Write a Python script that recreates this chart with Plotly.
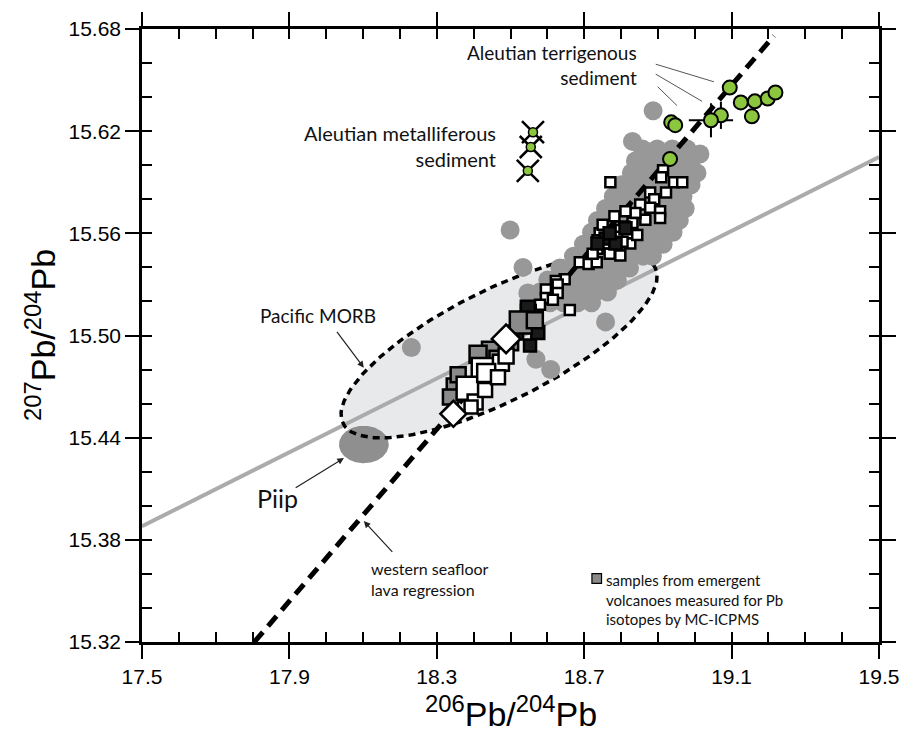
import numpy as np
import plotly.graph_objects as go

# ---- emergent-volcano samples and reference fields (206Pb/204Pb, 207Pb/204Pb) ----
# grey field of published arc lavas (dense cloud along the array)
gray_x = [18.858, 18.898, 18.939, 18.979,
          18.839, 18.877, 18.914, 18.952, 18.990,
          18.828, 18.866, 18.904, 18.941, 18.979, 19.006,
          18.801, 18.839, 18.877, 18.914, 18.952, 18.990,
          18.779, 18.817, 18.855, 18.893, 18.931, 18.968,
          18.758, 18.796, 18.833, 18.871, 18.909, 18.947, 18.974,
          18.736, 18.774, 18.812, 18.850, 18.887, 18.925, 18.958,
          18.720, 18.758, 18.796, 18.833, 18.871, 18.909, 18.941,
          18.698, 18.736, 18.774, 18.812, 18.850, 18.887, 18.914,
          18.671, 18.709, 18.747, 18.785, 18.823, 18.860, 18.885,
          18.634, 18.671, 18.709, 18.747, 18.785, 18.823,
          18.601, 18.639, 18.677, 18.715, 18.752, 18.790,
          18.580, 18.617, 18.655, 18.693, 18.731, 18.763,
          18.607, 18.644, 18.682, 18.720,
          18.831, 19.014, 18.547,
          18.887, 18.499, 18.534, 18.758, 18.231, 18.569, 18.609]
gray_y = [15.6095, 15.6095, 15.6095, 15.6095,
          15.6025, 15.6025, 15.6025, 15.6025, 15.6025,
          15.5955, 15.5955, 15.5955, 15.5955, 15.5955, 15.5955,
          15.5885, 15.5885, 15.5885, 15.5885, 15.5885, 15.5885,
          15.5816, 15.5816, 15.5816, 15.5816, 15.5816, 15.5816,
          15.5746, 15.5746, 15.5746, 15.5746, 15.5746, 15.5746, 15.5746,
          15.5676, 15.5676, 15.5676, 15.5676, 15.5676, 15.5676, 15.5676,
          15.5606, 15.5606, 15.5606, 15.5606, 15.5606, 15.5606, 15.5606,
          15.5536, 15.5536, 15.5536, 15.5536, 15.5536, 15.5536, 15.5536,
          15.5466, 15.5466, 15.5466, 15.5466, 15.5466, 15.5466, 15.5466,
          15.5396, 15.5396, 15.5396, 15.5396, 15.5396, 15.5396,
          15.5326, 15.5326, 15.5326, 15.5326, 15.5326, 15.5326,
          15.5256, 15.5256, 15.5256, 15.5256, 15.5256, 15.5256,
          15.5192, 15.5192, 15.5192, 15.5192,
          15.614, 15.6066, 15.525,
          15.632, 15.562, 15.540, 15.508, 15.493, 15.486, 15.480]

# MC-ICPMS samples, small open squares
sq_x = [18.771, 18.914, 18.909, 18.944, 18.966, 18.922, 18.879, 18.890, 18.852, 18.879,
        18.906, 18.906, 18.866, 18.839, 18.812, 18.782, 18.831, 18.809, 18.785, 18.763,
        18.742, 18.736, 18.755, 18.736, 18.771, 18.790, 18.817, 18.790, 18.798, 18.825,
        18.688, 18.712, 18.734, 18.647, 18.623, 18.596, 18.628, 18.628, 18.661, 18.596,
        18.566, 18.615, 18.580, 18.555, 18.542, 18.750, 18.804, 18.844, 18.769, 18.723]
sq_y = [15.590, 15.597, 15.593, 15.590, 15.590, 15.584, 15.584, 15.580, 15.577, 15.575,
        15.573, 15.569, 15.568, 15.572, 15.573, 15.570, 15.566, 15.564, 15.562, 15.561,
        15.560, 15.556, 15.554, 15.551, 15.557, 15.558, 15.560, 15.551, 15.547, 15.554,
        15.543, 15.542, 15.543, 15.533, 15.532, 15.527, 15.530, 15.525, 15.515, 15.522,
        15.517, 15.521, 15.518, 15.515, 15.515, 15.565, 15.555, 15.559, 15.548, 15.548]

# small squares with solid fill
sqfill_x = [18.758, 18.785, 18.812, 18.736, 18.769, 18.547, 18.574, 18.515, 18.553]
sqfill_y = [15.557, 15.554, 15.563, 15.554, 15.560, 15.5163, 15.5017, 15.5017, 15.4942]
sqfill_s = [12, 12, 12, 12, 12, 14, 13, 14, 12]

# larger squares, grey fill
bigg_x = [18.528, 18.566, 18.447, 18.412, 18.466, 18.350, 18.358, 18.337, 18.499]
bigg_y = [15.5076, 15.509, 15.491, 15.489, 15.486, 15.4697, 15.477, 15.4639, 15.496]
bigg_s = [22, 16, 18, 17, 17, 17, 15, 15, 16]

# larger squares, white fill
bigw_x = [18.426, 18.385, 18.474, 18.434, 18.404, 18.431, 18.488, 18.393, 18.466]
bigw_y = [15.480, 15.469, 15.484, 15.478, 15.461, 15.468, 15.488, 15.458, 15.4755]
bigw_s = [23, 23, 16, 18, 15, 14, 15, 13, 14]

# white diamonds
dia_x = [18.488, 18.345]
dia_y = [15.498, 15.454]
dia_s = [22, 20]

# Aleutian terrigenous sediment
terr_x = [19.095, 19.125, 19.163, 19.198, 19.219, 19.155, 19.071, 19.044, 18.936, 18.947, 18.933]
terr_y = [15.6456, 15.6369, 15.6375, 15.6392, 15.6427, 15.6287, 15.6293, 15.6264, 15.6252, 15.6235, 15.6037]
terr_ex = [0, 0, 0, 0, 0, 0, 0, 0.06, 0, 0, 0]
terr_ey = [0, 0, 0, 0, 0, 0, 0.008, 0.010, 0, 0, 0]

# Aleutian metalliferous sediment
metal_x = [18.561, 18.555, 18.547]
metal_y = [15.6194, 15.6107, 15.5967]

# reference fields: centre and the two semi-axis vectors
morb_center = (18.469, 15.4942)
morb_axis_a = (0.4235, 0.0458)
morb_axis_b = (-0.0677, 0.0292)
piip_center = (18.102, 15.436)
piip_axis_a = (0.0675, 0.0)
piip_axis_b = (0.0, 0.011)

# Northern Hemisphere reference line and western seafloor lava regression
nhrl_slope, nhrl_icpt = 0.1084, 13.491
reg_x0, reg_y0, reg_slope, reg_x1 = 17.805, 15.32, 0.2525, 19.215

X_RANGE = [17.5, 19.5]
Y_RANGE = [15.32, 15.68]

GREEN = "#8cc63e"
FONT_TXT = "Lato"
FONT_AX = "Liberation Sans"

t = np.linspace(0, 2 * np.pi, 241)


def ellipse(c, a, b):
    return (c[0] + a[0] * np.cos(t) + b[0] * np.sin(t),
            c[1] + a[1] * np.cos(t) + b[1] * np.sin(t))


def squares(x, y, size, fill, symbol="square", **kw):
    return go.Scatter(x=x, y=y, mode="markers", hoverinfo="skip", **kw,
                      marker=dict(symbol=symbol, size=size, color=fill, opacity=1,
                                  line=dict(color="black", width=2.5)))


fig = go.Figure()

mx, my = ellipse(morb_center, morb_axis_a, morb_axis_b)
fig.add_trace(go.Scatter(x=mx, y=my, mode="lines", fill="toself", fillcolor="#e7e9eb",
                         line=dict(width=0), hoverinfo="skip"))

px_, py_ = ellipse(piip_center, piip_axis_a, piip_axis_b)
fig.add_trace(go.Scatter(x=px_, y=py_, mode="lines", fill="toself", fillcolor="#8f8f8f",
                         line=dict(width=0), hoverinfo="skip"))

nx = np.array(X_RANGE)
fig.add_trace(go.Scatter(x=nx, y=nhrl_slope * nx + nhrl_icpt, mode="lines",
                         line=dict(color="#ababab", width=4), hoverinfo="skip"))

fig.add_trace(go.Scatter(x=mx, y=my, mode="lines",
                         line=dict(color="black", width=3.5, dash="7px,5px"), hoverinfo="skip"))

fig.add_trace(go.Scatter(x=gray_x, y=gray_y, mode="markers", hoverinfo="skip",
                         marker=dict(symbol="circle", size=19, color="#989898", opacity=1,
                                     line=dict(width=0))))

rx = np.array([reg_x0, reg_x1])
fig.add_trace(go.Scatter(x=rx, y=reg_y0 + reg_slope * (rx - reg_x0), mode="lines",
                         line=dict(color="black", width=5, dash="13px,8px"), hoverinfo="skip"))

fig.add_trace(squares(sq_x, sq_y, 10, "white"))
fig.add_trace(squares(sqfill_x, sqfill_y, sqfill_s, "#1a1a1a"))
fig.add_trace(squares(bigg_x, bigg_y, bigg_s, "#8a8a8a"))
fig.add_trace(squares(bigw_x, bigw_y, bigw_s, "white"))
fig.add_trace(squares(dia_x, dia_y, dia_s, "white", symbol="diamond"))

# sediment samples sit on the overlay axes so they draw on top
fig.add_trace(go.Scatter(x=metal_x, y=metal_y, mode="markers", xaxis="x2", yaxis="y2",
                         hoverinfo="skip",
                         marker=dict(symbol="x-thin", size=22, opacity=1,
                                     line=dict(color="black", width=2.5))))
fig.add_trace(go.Scatter(x=metal_x, y=metal_y, mode="markers", xaxis="x2", yaxis="y2",
                         hoverinfo="skip",
                         marker=dict(symbol="circle", size=9, color=GREEN, opacity=1,
                                     line=dict(color="black", width=1.5))))
fig.add_trace(go.Scatter(x=terr_x, y=terr_y, mode="markers", xaxis="x2", yaxis="y2",
                         hoverinfo="skip",
                         error_x=dict(type="data", array=terr_ex, color="black", thickness=2, width=0),
                         error_y=dict(type="data", array=terr_ey, color="black", thickness=2, width=0),
                         marker=dict(symbol="circle", size=14, color=GREEN, opacity=1,
                                     line=dict(color="black", width=2))))

ann = []


def text(x, y, s, size, xanchor="center", align="center", font=FONT_TXT):
    ann.append(dict(x=x, y=y, xref="x", yref="y", text=s, showarrow=False, xanchor=xanchor,
                    yanchor="middle", align=align, font=dict(family=font, size=size, color="#111")))


def arrow(x0, y0, x1, y1, head=True, color="#222", width=1.2):
    ann.append(dict(x=x1, y=y1, ax=x0, ay=y0, xref="x", yref="y", axref="x", ayref="y", text="",
                    showarrow=True, arrowhead=2 if head else 0, arrowsize=1.1, arrowwidth=width,
                    arrowcolor=color, standoff=0, startstandoff=0))


text(18.850, 15.659, "Aleutian terrigenous<br>sediment", 19, xanchor="right", align="right")
arrow(18.890, 15.6596, 19.052, 15.649, head=False, color="#555", width=1)
arrow(18.890, 15.654, 19.020, 15.6375, head=False, color="#555", width=1)
arrow(18.895, 15.647, 18.952, 15.635, head=False, color="#555", width=1)

text(18.466, 15.611, "Aleutian metalliferous<br>sediment", 20, xanchor="right", align="right")

text(17.978, 15.512, "Pacific MORB", 19)
arrow(18.026, 15.503, 18.102, 15.481)

text(17.867, 15.4045, "Piip", 25)
arrow(17.913, 15.410, 18.048, 15.428)

text(18.115, 15.357, "western seafloor<br>lava regression", 16, xanchor="left", align="left")
arrow(18.183, 15.372, 18.102, 15.391)

ann.append(dict(x=0.627, y=0.0696, xref="paper", yref="paper", showarrow=False, xanchor="left",
                yanchor="middle", align="left",
                text="samples from emergent<br>volcanoes measured for Pb<br>isotopes by MC-ICPMS",
                font=dict(family=FONT_TXT, size=15, color="#111")))

# axis titles
ann.append(dict(x=0.5, y=-0.114, xref="paper", yref="paper", showarrow=False,
                text="<sup>206</sup>Pb/<sup>204</sup>Pb", yanchor="middle",
                font=dict(family=FONT_AX, size=34, color="black")))
ann.append(dict(x=-0.1377, y=0.5, xref="paper", yref="paper", showarrow=False, textangle=-90,
                text="<sup>207</sup>Pb/<sup>204</sup>Pb", xanchor="center",
                font=dict(family=FONT_AX, size=34, color="black")))

shapes = [dict(type="rect", xref="paper", yref="paper", x0=0.6105, x1=0.6235, y0=0.0955, y1=0.1117,
               fillcolor="#8a8a8a", line=dict(color="black", width=1.2))]

major = dict(showline=True, linecolor="black", linewidth=2.5, mirror="ticks", ticks="outside",
             ticklen=14, tickwidth=2, tickcolor="black", showgrid=False, zeroline=False,
             tickfont=dict(family=FONT_AX, size=21, color="black"))
minor_ax = dict(showline=False, mirror="ticks", ticks="inside", ticklen=10, tickwidth=2,
                tickcolor="black", showgrid=False, zeroline=False, showticklabels=False)

fig.update_layout(
    width=911, height=732, margin=dict(l=142, r=28, t=24, b=90),
    paper_bgcolor="white", plot_bgcolor="white", showlegend=False,
    xaxis=dict(range=X_RANGE, tick0=17.5, dtick=0.4, tickformat=".1f", **major),
    yaxis=dict(range=Y_RANGE, tick0=15.32, dtick=0.06, tickformat=".2f", **major),
    xaxis2=dict(range=X_RANGE, overlaying="x", tick0=17.5, dtick=0.1, **minor_ax),
    yaxis2=dict(range=Y_RANGE, overlaying="y", tick0=15.32, dtick=0.02, **minor_ax),
    annotations=ann, shapes=shapes,
)

fig.write_html("out.html")
